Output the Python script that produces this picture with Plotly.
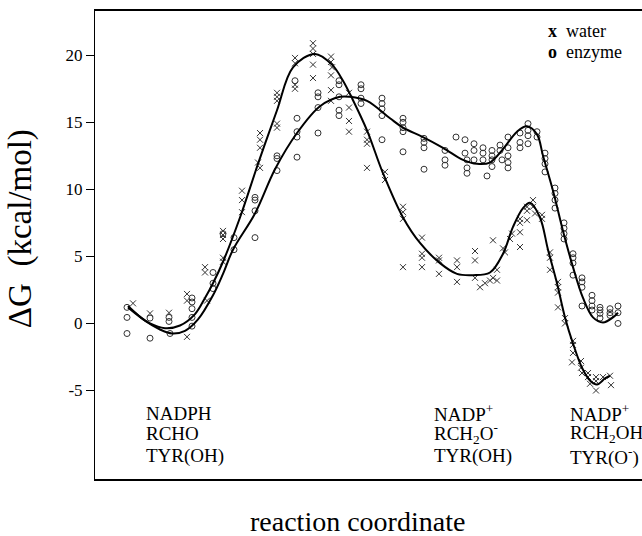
import plotly.graph_objects as go

# reaction coordinate (arbitrary units), dG in kcal/mol
water_x = [3.8, 5.5, 7.4, 9.2, 9.2, 9.2, 11.0, 11.0, 11.2, 12.8, 12.8, 12.8, 12.8, 12.8,
           14.7, 14.7, 14.7, 16.5, 16.5, 16.5, 16.3, 16.5, 18.2, 18.2, 18.2, 18.2, 18.2,
           20.0, 20.0, 20.0, 20.0, 21.8, 21.8, 21.8, 21.8, 21.8,
           23.6, 23.6, 23.7, 23.6, 23.6, 23.6, 25.4, 25.4, 25.4, 25.4,
           27.2, 27.2, 27.2, 27.2, 29.0, 29.0, 30.8, 30.8, 30.8, 30.8,
           32.7, 32.7, 32.7, 32.7, 34.4, 34.4, 34.4, 36.2, 36.2, 36.2,
           38.0, 38.0, 38.0, 38.5, 39.0, 39.5, 40.2, 40.2, 39.8, 41.0, 39.8,
           40.8, 41.5, 41.7, 42.5, 42.5, 42.5, 42.5, 43.2, 43.2, 43.2, 43.8, 43.8, 44.0, 44.7, 44.7,
           45.5, 45.5, 45.5, 46.3, 46.3, 46.3, 46.3, 47.0, 47.0,
           47.8, 47.8, 47.8, 47.7, 48.6, 48.6, 48.7, 49.3, 49.3, 49.5,
           50.1, 50.1, 50.1, 50.8, 51.5, 51.6]
water_y = [1.5, 0.75, 0.8, -1.0, 2.2, 1.7, 4.2, 3.8, 1.7, 6.6, 6.3, 6.9, 4.9, 4.6,
           9.9, 9.2, 8.3, 14.2, 13.7, 13.1, 12.0, 11.6, 17.2, 16.9, 16.6, 14.9, 14.6,
           19.8, 19.4, 17.8, 17.5, 20.9, 20.5, 20.1, 19.3, 18.3,
           19.9, 19.5, 19.1, 18.5, 17.4, 16.6, 17.2, 16.1, 15.1, 14.3,
           14.3, 13.7, 13.4, 11.6, 11.3, 10.7, 8.7, 8.3, 7.8, 4.2,
           6.4, 5.2, 4.9, 4.2, 4.9, 4.7, 3.7, 4.7, 4.2, 3.1,
           5.4, 4.7, 3.4, 2.7, 3.0, 3.2, 4.0, 3.2, 6.2, 5.3, 3.4,
           5.6, 6.3, 6.7, 7.8, 7.5, 6.8, 5.7, 8.7, 8.4, 7.7, 9.2, 8.7, 8.2, 8.1, 7.8,
           5.3, 4.9, 4.0, 3.1, 2.7, 2.3, 1.2, 0.4, 0.0,
           -1.3, -1.6, -2.2, -2.9, -2.8, -3.3, -3.7, -3.7, -4.0, -4.5,
           -4.0, -4.3, -5.0, -4.0, -3.9, -4.6]

enzyme_x = [3.2, 3.2, 3.2, 5.5, 5.5, 7.4, 7.4, 7.5, 9.7, 9.7, 9.7, 9.7, 9.7,
            11.8, 11.8, 11.8, 12.8, 13.9, 13.9, 16.0, 16.0, 16.0, 16.0,
            18.2, 18.2, 18.2, 20.2, 20.2, 20.2, 20.2, 20.0,
            22.3, 22.3, 22.3, 22.3, 24.4, 24.4, 24.4, 24.4, 24.4,
            26.6, 26.6, 26.6, 26.6, 28.7, 28.7, 28.7, 28.7, 28.7,
            30.8, 30.8, 30.8, 30.8, 30.8, 32.9, 32.9, 32.9, 32.9,
            35.0, 35.0, 35.0, 36.1, 37.0, 37.0, 37.2, 37.2, 37.2,
            37.9, 37.9, 37.9, 38.8, 38.8, 38.8, 39.2, 39.7, 39.7, 39.7, 39.7,
            40.5, 40.5, 40.7, 41.3, 41.3, 41.3, 41.3, 41.3, 42.5, 42.5, 42.5,
            43.3, 43.3, 43.3, 43.3, 44.2, 44.2, 45.0, 45.0, 45.0, 45.0,
            46.0, 46.0, 46.0, 46.0, 46.9, 46.9, 46.9, 46.9, 47.8, 47.8, 47.8, 47.8,
            48.7, 48.7, 48.7, 48.7, 49.7, 49.7, 49.7, 49.7, 50.5, 50.5, 50.5, 50.5,
            51.5, 51.5, 51.5, 52.3, 52.3, 52.3]
enzyme_y = [1.2, 0.45, -0.75, 0.4, -1.1, 0.45, 0.15, -0.75, 1.9, 1.6, 1.1, 0.45, -0.2,
            3.8, 3.0, 2.6, 6.7, 6.4, 5.5, 6.4, 9.4, 9.2, 8.4,
            12.5, 12.3, 11.4, 15.3, 14.3, 13.9, 12.4, 18.1,
            17.2, 16.9, 16.1, 14.2, 18.1, 17.8, 16.9, 15.9, 15.5,
            17.8, 17.5, 16.8, 16.4, 16.8, 16.4, 16.0, 15.5, 13.7,
            15.3, 15.0, 14.6, 14.3, 12.8, 13.8, 13.5, 13.1, 11.5,
            12.9, 12.2, 11.8, 13.9, 13.7, 12.7, 12.2, 11.6, 11.2,
            13.4, 12.9, 12.2, 13.1, 12.7, 12.2, 11.0, 12.9, 12.5, 12.2, 11.7,
            13.3, 12.9, 12.2, 13.9, 13.1, 12.5, 12.0, 11.6, 14.2, 13.5, 13.1,
            14.9, 14.4, 14.0, 13.4, 14.3, 13.9, 12.7, 12.3, 11.9, 11.3,
            10.1, 9.7, 9.2, 8.6, 7.5, 7.1, 6.7, 6.3, 5.2, 4.9, 4.5, 3.6,
            3.4, 3.1, 2.7, 1.3, 2.1, 1.7, 1.3, 1.0, 1.2, 1.0, 0.75, 0.4,
            1.1, 0.8, 0.6, 1.3, 0.8, 0.0]

# fitted curves
water_fit_x = [3.3, 5.5, 7.0, 8.5, 10.0, 11.0, 11.8, 12.8, 14.5, 16.3, 18.2, 19.8, 22.0,
               23.7, 24.8, 25.7, 27.2, 28.8, 30.8, 32.5, 34.5, 36.2, 37.8, 39.5, 40.8,
               41.8, 42.8, 43.5, 44.5, 45.3, 46.2, 47.0, 47.8, 48.7, 49.5, 50.2, 51.0, 51.5]
water_fit_y = [1.2, 0.0, -0.35, -0.15, 0.7, 1.9, 3.0, 4.6, 7.9, 11.9, 15.9, 19.1, 20.1,
               19.3, 18.1, 16.8, 14.4, 11.2, 7.9, 6.0, 4.5, 3.7, 3.6, 3.8, 5.2,
               7.2, 8.6, 9.0, 7.9, 5.5, 3.0, 0.45, -1.5, -3.3, -4.25, -4.55, -4.1, -3.9]

enzyme_fit_x = [3.3, 5.0, 6.5, 7.7, 9.0, 10.3, 11.8, 12.8, 13.8, 16.0, 18.0, 20.2, 22.5,
                24.5, 25.5, 27.2, 29.5, 30.8, 32.8, 34.8, 36.8, 38.2, 39.5, 40.8, 42.2,
                43.2, 44.2, 44.8, 45.8, 46.8, 47.8, 48.8, 49.8, 50.8, 51.8, 52.3]
enzyme_fit_y = [1.3, 0.2, -0.45, -0.75, -0.55, 0.3, 2.1, 3.7, 5.5, 8.2, 11.5, 14.2, 16.2,
                16.9, 16.9, 16.6, 15.3, 14.6, 13.9, 13.1, 12.2, 11.9, 12.0, 13.0, 14.3,
                14.7, 14.1, 12.5, 9.9, 6.9, 4.2, 1.9, 0.45, 0.07, 0.45, 0.8]

y_ticks = [-5, 0, 5, 10, 15, 20]
y_tick_text = ["-5", "0", "5", "10", "15", "20"]

state_labels = [
    ["NADPH", "RCHO", "TYR(OH)"],
    ["NADP<sup>+</sup>", "RCH<sub>2</sub>O<sup>-</sup>", "TYR(OH)"],
    ["NADP<sup>+</sup>", "RCH<sub>2</sub>OH", "TYR(O<sup>-</sup>)"],
]

serif = "Liberation Serif, Times New Roman, serif"

fig = go.Figure()
fig.add_trace(go.Scatter(x=water_x, y=water_y, mode="markers",
                         marker=dict(symbol="x-thin-open", size=6, color="#333",
                                     line=dict(width=1, color="#333"))))
fig.add_trace(go.Scatter(x=enzyme_x, y=enzyme_y, mode="markers",
                         marker=dict(symbol="circle-open", size=6, color="#333",
                                     line=dict(width=1, color="#333"))))
fig.add_trace(go.Scatter(x=water_fit_x, y=water_fit_y, mode="lines",
                         line=dict(color="black", width=2, shape="spline", smoothing=1)))
fig.add_trace(go.Scatter(x=enzyme_fit_x, y=enzyme_fit_y, mode="lines",
                         line=dict(color="black", width=2, shape="spline", smoothing=1)))

anns = []
# state labels under the curves
for col_x, lines in zip([0.0896, 0.616, 0.865], state_labels):
    for row_y, txt in zip([0.141, 0.0962, 0.0491], lines):
        anns.append(dict(x=col_x, y=row_y, xref="paper", yref="paper", text=txt,
                         showarrow=False, xanchor="left", yanchor="middle",
                         font=dict(family=serif, size=19, color="black")))
# hand made legend
for row_y, sym, name in [(0.957, "x", "water"), (0.912, "o", "enzyme")]:
    anns.append(dict(x=0.8245, y=row_y, xref="paper", yref="paper", text="<b>" + sym + "</b>",
                     showarrow=False, xanchor="left", yanchor="middle",
                     font=dict(family=serif, size=18, color="black")))
    anns.append(dict(x=0.857, y=row_y, xref="paper", yref="paper", text=name,
                     showarrow=False, xanchor="left", yanchor="middle",
                     font=dict(family=serif, size=18, color="black")))
anns.append(dict(x=0.479, y=-0.09, xref="paper", yref="paper", text="reaction coordinate",
                 showarrow=False, xanchor="center", yanchor="middle",
                 font=dict(family=serif, size=28, color="black")))
anns.append(dict(x=-0.137, y=0.534, xref="paper", yref="paper", text="ΔG  (kcal/mol)",
                 showarrow=False, xanchor="center", yanchor="middle", textangle=-90,
                 font=dict(family=serif, size=33, color="black")))

fig.update_layout(
    width=642, height=536,
    margin=dict(l=95, r=0, t=11, b=57),
    paper_bgcolor="white", plot_bgcolor="white",
    showlegend=False,
    annotations=anns,
    xaxis=dict(range=[0, 54.7], showgrid=False, zeroline=False, showticklabels=False,
               ticks="", showline=True, linecolor="black", linewidth=1.5, mirror=True),
    yaxis=dict(range=[-11.6, 23.3], showgrid=False, zeroline=False,
               tickvals=y_ticks, ticktext=y_tick_text, ticks="outside", ticklen=8,
               tickwidth=1, tickcolor="black", showline=True, linecolor="black", linewidth=1,
               tickfont=dict(family=serif, size=17, color="black")),
)

# page has a default 8px body margin, drop it so the figure fills the window
fig.write_html("out.html", config={"displayModeBar": False},
               post_script="document.body.style.margin='0';")
